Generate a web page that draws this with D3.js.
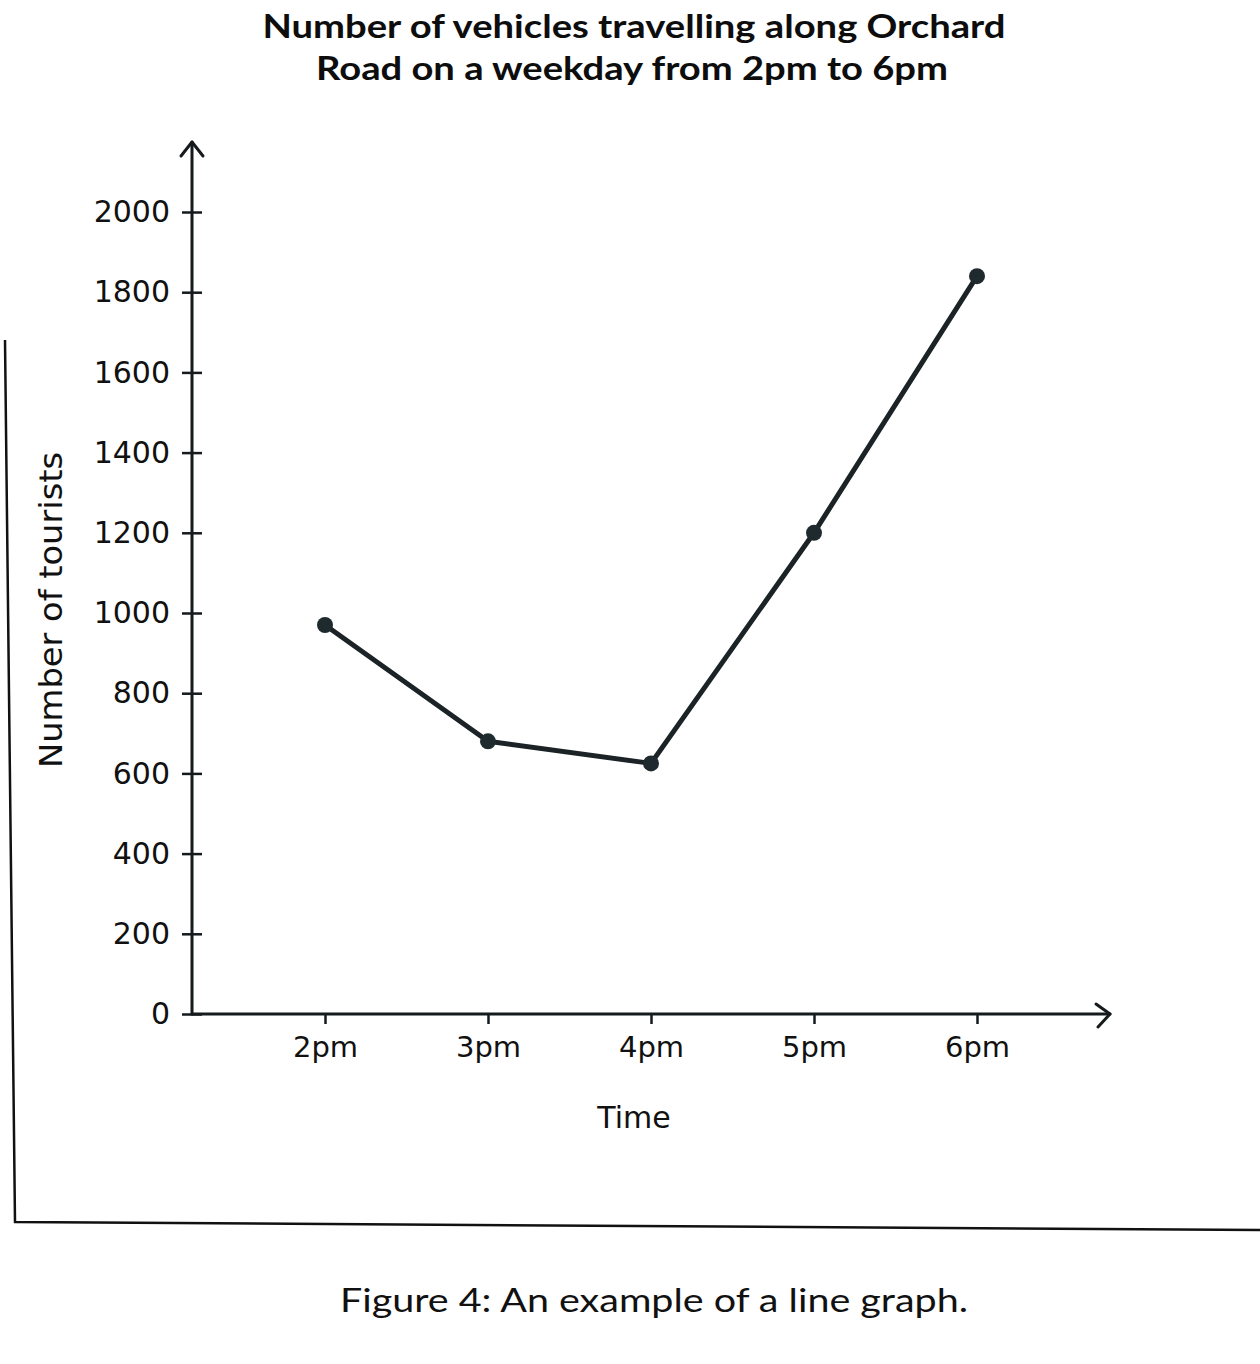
<!DOCTYPE html>
<meta charset="utf-8">
<title>Vehicles along Orchard Road</title>
<style>
  body { margin: 0; background: #fff; }
  svg { display: block; }
  .tick text { font-family: "DejaVu Sans", sans-serif; fill: #111; }
</style>
<body>
<script src="https://d3js.org/d3.v7.min.js"></script>
<script>

var width = 1260,
    height = 1364;

var times = ["2pm", "3pm", "4pm", "5pm", "6pm"];
var vehicles = [970, 680, 625, 1200, 1840];
var yTicks = [0, 200, 400, 600, 800, 1000, 1200, 1400, 1600, 1800, 2000];

var ink = "#151a1c";

var svg = d3.select("body").append("svg")
    .attr("width", width)
    .attr("height", height);

var x = d3.scalePoint().domain(times).range([325, 977]);
var y = d3.scaleLinear().domain([0, 2000]).range([1014, 212]);

var axisX0 = 192;   // where the two axes meet
var axisY0 = y(0);

// title
var title = svg.append("g")
    .attr("font-family", "Lato, sans-serif")
    .attr("font-weight", "bold")
    .attr("font-size", 33)
    .attr("fill", "#0d0d0d")
    .attr("text-anchor", "middle");
title.append("text").attr("x", 634).attr("y", 38)
    .attr("textLength", 743).attr("lengthAdjust", "spacingAndGlyphs")
    .text("Number of vehicles travelling along Orchard");
title.append("text").attr("x", 632).attr("y", 80)
    .attr("textLength", 632).attr("lengthAdjust", "spacingAndGlyphs")
    .text("Road on a weekday from 2pm to 6pm");

// y axis
var yAxis = svg.append("g")
    .attr("transform", "translate(" + axisX0 + ",0)")
    .call(d3.axisLeft(y).tickValues(yTicks).tickFormat(d3.format("d"))
        .tickSize(10).tickPadding(12));
yAxis.select(".domain").remove();
yAxis.selectAll(".tick line")
    .attr("x1", -10).attr("x2", 10)
    .attr("stroke", ink).attr("stroke-width", 2.5);
yAxis.selectAll(".tick text").attr("font-size", 30).attr("fill", "#111");

// x axis
var xAxis = svg.append("g")
    .attr("transform", "translate(0," + axisY0 + ")")
    .call(d3.axisBottom(x).tickSize(10).tickPadding(12));
xAxis.select(".domain").remove();
xAxis.selectAll(".tick line").attr("stroke", ink).attr("stroke-width", 2.5);
xAxis.selectAll(".tick text").attr("font-size", 29).attr("fill", "#111");

// axis lines with open arrow heads
var axes = svg.append("g")
    .attr("fill", "none")
    .attr("stroke", ink)
    .attr("stroke-width", 3)
    .attr("stroke-linecap", "round")
    .attr("stroke-linejoin", "round");
axes.append("path")
    .attr("d", "M" + axisX0 + "," + axisY0 + "V" + (y(2000) - 70));
axes.append("path")
    .attr("d", "M" + (axisX0 - 11) + "," + (y(2000) - 56) +
               "L" + axisX0 + "," + (y(2000) - 70) +
               "L" + (axisX0 + 11) + "," + (y(2000) - 56));
axes.append("path")
    .attr("d", "M" + axisX0 + "," + axisY0 + "H1110");
axes.append("path")
    .attr("d", "M1096," + (axisY0 - 10) + "L1110," + axisY0 + "L1098," + (axisY0 + 13));

// axis titles
svg.append("text")
    .attr("transform", "translate(62,610) rotate(-90)")
    .attr("text-anchor", "middle")
    .attr("font-family", "DejaVu Sans, sans-serif")
    .attr("font-size", 32)
    .attr("fill", "#111")
    .attr("textLength", 316).attr("lengthAdjust", "spacingAndGlyphs")
    .text("Number of tourists");

svg.append("text")
    .attr("x", 634).attr("y", 1128)
    .attr("text-anchor", "middle")
    .attr("font-family", "DejaVu Sans, sans-serif")
    .attr("font-size", 30)
    .attr("fill", "#111")
    .text("Time");

// data line
var points = times.map(function(t, i) { return { t: t, v: vehicles[i] }; });

var line = d3.line()
    .x(function(d) { return x(d.t); })
    .y(function(d) { return y(d.v); });

svg.append("path")
    .datum(points)
    .attr("fill", "none")
    .attr("stroke", "#1b2326")
    .attr("stroke-width", 5)
    .attr("stroke-linejoin", "round")
    .attr("d", line);

svg.selectAll(".dot")
    .data(points)
    .enter().append("circle")
    .attr("class", "dot")
    .attr("cx", function(d) { return x(d.t); })
    .attr("cy", function(d) { return y(d.v); })
    .attr("r", 8)
    .attr("fill", "#1f2a2e");

// frame around the figure
svg.append("path")
    .attr("d", "M5,340L15,1222L1260,1230")
    .attr("fill", "none")
    .attr("stroke", "#111")
    .attr("stroke-width", 2.5);

// caption
svg.append("text")
    .attr("x", 654).attr("y", 1312)
    .attr("text-anchor", "middle")
    .attr("font-family", "Lato, sans-serif")
    .attr("font-size", 33)
    .attr("fill", "#111")
    .attr("textLength", 628).attr("lengthAdjust", "spacingAndGlyphs")
    .text("Figure 4: An example of a line graph.");

</script>
